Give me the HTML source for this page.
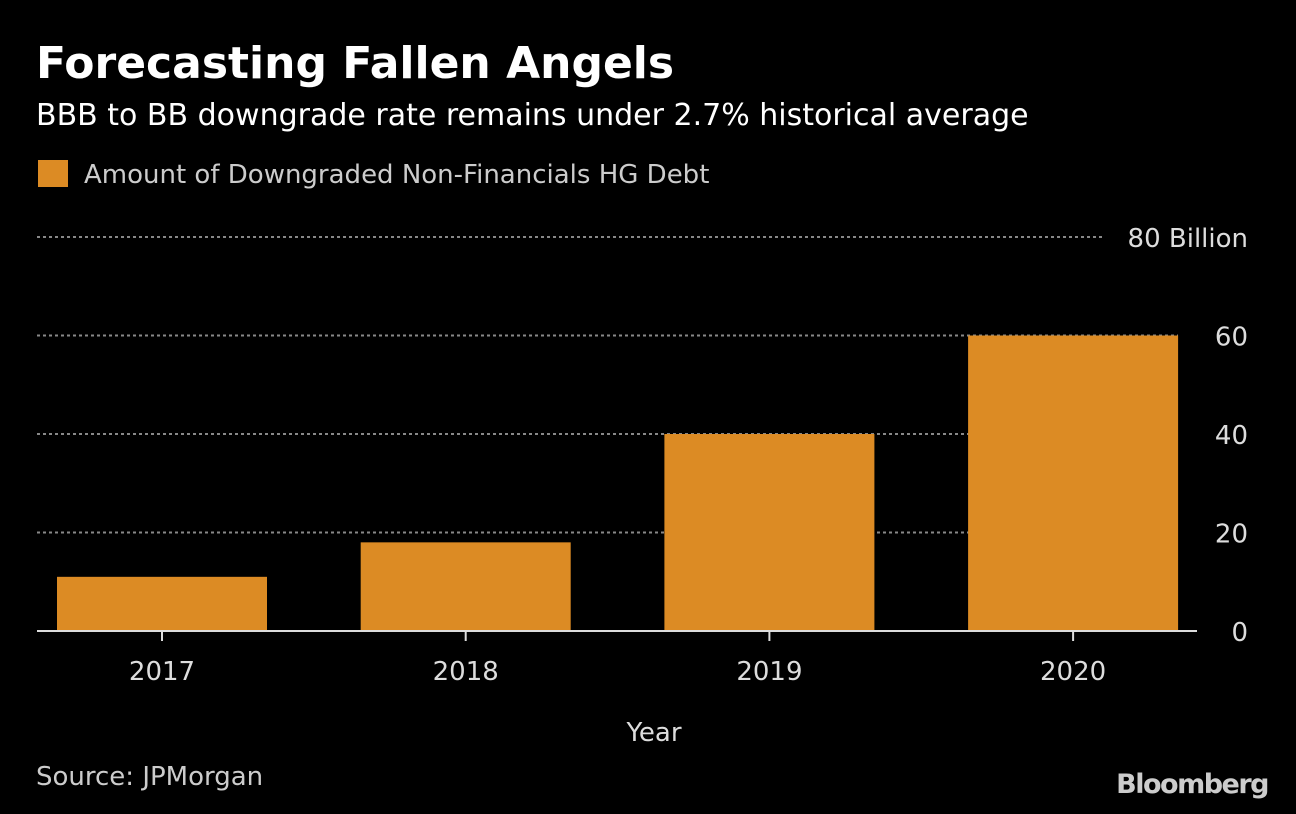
<!DOCTYPE html>
<html><head><meta charset="utf-8"><style>
body{margin:0;background:#000;width:1296px;height:814px;overflow:hidden;font-family:"DejaVu Sans",sans-serif;color:#e6e6e6}
svg{position:absolute;left:0;top:0;font-family:"DejaVu Sans",sans-serif}
</style></head><body>
<svg width="1296" height="814">
<text x="36" y="78" font-size="44" font-weight="bold" fill="#fff">Forecasting Fallen Angels</text>
<text x="36" y="125" font-size="30" fill="#fff">BBB to BB downgrade rate remains under 2.7% historical average</text>
<rect x="38" y="160" width="30" height="27" fill="#dc8b24"/>
<text x="84" y="183" font-size="26" fill="#ccc">Amount of Downgraded Non-Financials HG Debt</text>
<g id="grid"></g><g id="bars"></g><g id="xt"></g>
<line x1="37" y1="631" x2="1197" y2="631" stroke="#ddd" stroke-width="2"/>
<text x="654" y="741" font-size="26" fill="#ddd" text-anchor="middle">Year</text>
<text x="36" y="785" font-size="26" fill="#ccc">Source: JPMorgan</text>
<text x="1268" y="793" font-size="27" font-weight="bold" fill="#ccc" text-anchor="end" letter-spacing="-1.5">Bloomberg</text>
</svg>
<script>
const categories=["2017","2018","2019","2020"];
const values=[11,18,40,60];
const yTicks=[0,20,40,60,80];
const yTickLabels=["0","20","40","60","80 Billion"];
const NS="http://www.w3.org/2000/svg";
const y=v=>631-v*(631-237)/80;
const band=303.7;
const xc=i=>162+band*i;
function mk(t,a,p){const e=document.createElementNS(NS,t);for(const k in a)e.setAttribute(k,a[k]);document.getElementById(p).appendChild(e);return e;}
yTicks.forEach((v,i)=>{
  if(v>0){const g=mk("line",{x1:37,y1:y(v),x2:i==4?1103:1178,y2:y(v),stroke:"#888","stroke-width":2,"stroke-dasharray":"3,3"},"grid");
  
  }
  const t=mk("text",{x:1248,y:y(v)+10,"font-size":26,fill:"#ddd","text-anchor":"end"},"grid");
  t.textContent=yTickLabels[i];
  
  
});
categories.forEach((c,i)=>{
  const b=mk("rect",{x:xc(i)-105,y:y(values[i]),width:210,height:631-y(values[i]),fill:"#dc8b24"},"bars");
  
  
  const tk=mk("line",{x1:xc(i),y1:631,x2:xc(i),y2:641,stroke:"#ddd","stroke-width":2},"xt");
  
  
  const t=mk("text",{x:xc(i),y:680,"font-size":26,fill:"#ddd","text-anchor":"middle"},"xt");
  t.textContent=c;
  
  
});
</script>
</body></html>
